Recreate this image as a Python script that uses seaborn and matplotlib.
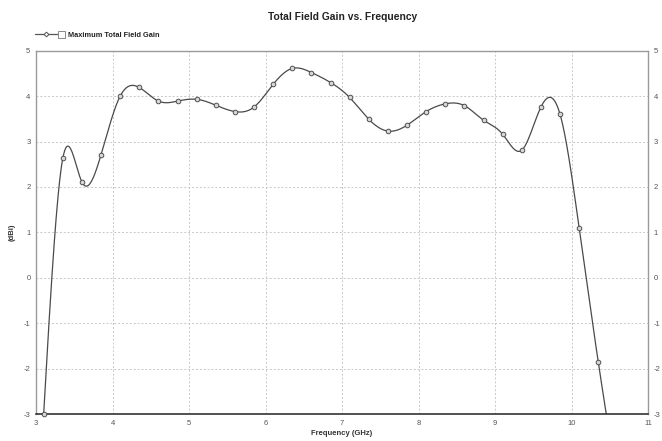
import numpy as np
import pandas as pd
import matplotlib
matplotlib.use("Agg")
import matplotlib.pyplot as plt
from matplotlib.lines import Line2D
from matplotlib.patches import Rectangle
from matplotlib.legend_handler import HandlerBase
import seaborn as sns

# Sampled gain curve (frequency in GHz, gain in dBi)
freq_ghz = [3.10, 3.35, 3.60, 3.85, 4.10, 4.35, 4.60, 4.85, 5.10, 5.35, 5.60,
            5.85, 6.10, 6.35, 6.60, 6.85, 7.10, 7.35, 7.60, 7.85, 8.10, 8.35,
            8.60, 8.85, 9.10, 9.35, 9.60, 9.85, 10.10, 10.35, 10.60]
gain_dbi = [-3.00, 2.63, 2.11, 2.71, 4.00, 4.19, 3.89, 3.89, 3.93, 3.80, 3.66,
            3.76, 4.26, 4.61, 4.52, 4.30, 3.97, 3.49, 3.23, 3.36, 3.66, 3.83,
            3.79, 3.47, 3.16, 2.81, 3.76, 3.60, 1.09, -1.86, -4.55]
x_ticks = [3, 4, 5, 6, 7, 8, 9, 10, 11]
y_ticks = [-3, -2, -1, 0, 1, 2, 3, 4, 5]
series_name = "Maximum Total Field Gain"


def natural_spline(x, y, n=1200):
    """Natural cubic spline through (x, y), evaluated on a dense grid."""
    x = np.asarray(x, float)
    y = np.asarray(y, float)
    k = len(x)
    h = np.diff(x)
    A = np.zeros((k, k))
    b = np.zeros(k)
    A[0, 0] = A[-1, -1] = 1.0
    for i in range(1, k - 1):
        A[i, i - 1] = h[i - 1]
        A[i, i] = 2 * (h[i - 1] + h[i])
        A[i, i + 1] = h[i]
        b[i] = 6 * ((y[i + 1] - y[i]) / h[i] - (y[i] - y[i - 1]) / h[i - 1])
    m = np.linalg.solve(A, b)
    xs = np.linspace(x[0], x[-1], n)
    idx = np.clip(np.searchsorted(x, xs) - 1, 0, k - 2)
    x0, x1 = x[idx], x[idx + 1]
    hh = x1 - x0
    t0, t1 = x1 - xs, xs - x0
    ys = (m[idx] * t0 ** 3 + m[idx + 1] * t1 ** 3) / (6 * hh) \
        + (y[idx] / hh - m[idx] * hh / 6) * t0 \
        + (y[idx + 1] / hh - m[idx + 1] * hh / 6) * t1
    return xs, ys


class LineAndBoxHandler(HandlerBase):
    """Legend key: a line with a marker, followed by an empty check box."""

    def create_artists(self, legend, orig_handle, xdescent, ydescent,
                       width, height, fontsize, trans):
        box = height * 1.05
        line_end = width - box
        yc = height / 2 - ydescent
        line = Line2D([-xdescent, line_end], [yc, yc], color="#555555",
                      linewidth=0.9, transform=trans)
        mark = Line2D([line_end * 0.48], [yc], marker="D", markersize=2.4,
                      markerfacecolor="white", markeredgecolor="#505050",
                      markeredgewidth=0.7, linestyle="none", transform=trans)
        rect = Rectangle((line_end, yc - box / 2), box, box,
                         facecolor="white", edgecolor="#8a8a8a",
                         linewidth=0.7, transform=trans)
        return [line, mark, rect]


points = pd.DataFrame({"freq": freq_ghz, "gain": gain_dbi})
xs, ys = natural_spline(freq_ghz, gain_dbi)
curve = pd.DataFrame({"freq": xs, "gain": ys})
visible = points[points["gain"] >= y_ticks[0]]

sns.set_theme(style="white")
plt.rcParams["font.family"] = ["Liberation Sans", "DejaVu Sans"]

fig = plt.figure(figsize=(6.62, 4.41), dpi=100)
ax = fig.add_axes([0.0544, 0.0612, 0.9245, 0.8238])

line_col = "#4a4a4a"
sns.lineplot(data=curve, x="freq", y="gain", ax=ax, color=line_col,
             linewidth=0.9, sort=False, legend=False)
sns.scatterplot(data=visible, x="freq", y="gain", ax=ax, marker="o", s=11,
                facecolor="#d8d8d8", edgecolor="#505050", linewidth=0.7,
                legend=False, zorder=3, clip_on=False)

ax.set_xlim(3, 11)
ax.set_ylim(-3, 5)
ax.set_xticks(x_ticks)
ax.set_yticks(y_ticks)
ax.set_xticklabels([str(v) for v in x_ticks])
ax.set_yticklabels([str(v) for v in y_ticks])
ax.grid(True, color="#c8c8c8", linestyle=(0, (2, 2)), linewidth=0.7)
ax.tick_params(axis="both", length=0, labelsize=5.5, labelcolor="#555555",
               pad=4, labelright=True)

for side in ("left", "top", "right"):
    ax.spines[side].set_color("#9a9a9a")
    ax.spines[side].set_linewidth(1.0)
ax.spines["bottom"].set_color("#222222")
ax.spines["bottom"].set_linewidth(1.1)

ax.set_xlabel("Frequency (GHz)", fontsize=5.5, fontweight="bold",
              color="#333333", labelpad=2.5)
ax.set_ylabel("(dBi)", fontsize=5.5, fontweight="bold", color="#333333",
              labelpad=6)

fig.text(0.517, 0.962, "Total Field Gain vs. Frequency", ha="center",
         va="center", fontsize=7.4, fontweight="bold", color="#222222")

key = Line2D([], [])
leg = fig.legend(handles=[key], labels=[series_name],
                 handler_map={Line2D: LineAndBoxHandler()},
                 loc="center left", bbox_to_anchor=(0.053, 0.921),
                 frameon=False, fontsize=5.3, handlelength=4.1,
                 handleheight=1.0, handletextpad=0.35, borderaxespad=0,
                 borderpad=0)
for txt in leg.get_texts():
    txt.set_fontweight("bold")
    txt.set_color("#222222")

fig.savefig("out.png", dpi=100)
